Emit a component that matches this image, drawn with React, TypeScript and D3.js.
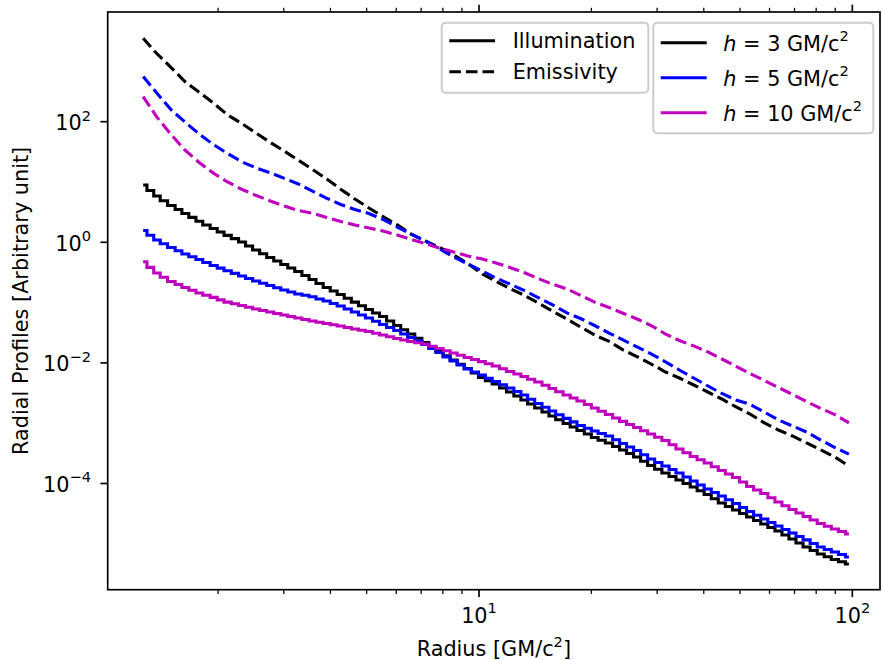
import React from 'react'
import * as d3 from 'd3'

// radial grid of the emissivity profiles [GM/c^2]
const radius = [1.26, 1.37, 1.50, 1.63, 1.78, 1.95, 2.12, 2.32, 2.53, 2.76, 3.01, 3.28, 3.58, 3.91, 4.26, 4.65, 5.07, 5.53, 6.04, 6.58, 7.18, 7.84, 8.55, 9.33, 10.2, 11.1, 12.1, 13.2, 14.4, 15.7, 17.2, 18.7, 20.4, 22.3, 24.3, 26.5, 28.9, 31.6, 34.4, 37.6, 41.0, 44.7, 48.8, 53.2, 58.1, 63.4, 69.1, 75.4, 82.3, 89.8, 97.9]

// radial bins of the illumination profiles [GM/c^2]
const radiusBins = [1.26, 1.32, 1.37, 1.43, 1.50, 1.57, 1.63, 1.71, 1.78, 1.86, 1.95, 2.03, 2.12, 2.22, 2.32, 2.42, 2.53, 2.64, 2.76, 2.88, 3.01, 3.14, 3.28, 3.43, 3.58, 3.74, 3.91, 4.08, 4.26, 4.45, 4.65, 4.86, 5.07, 5.30, 5.53, 5.78, 6.04, 6.30, 6.58, 6.88, 7.18, 7.50, 7.84, 8.19, 8.55, 8.93, 9.33, 9.74, 10.2, 10.6, 11.1, 11.6, 12.1, 12.7, 13.2, 13.8, 14.4, 15.1, 15.7, 16.4, 17.2, 17.9, 18.7, 19.6, 20.4, 21.3, 22.3, 23.3, 24.3, 25.4, 26.5, 27.7, 28.9, 30.2, 31.6, 33.0, 34.4, 36.0, 37.6, 39.2, 41.0, 42.8, 44.7, 46.7, 48.8, 51.0, 53.2, 55.6, 58.1, 60.7, 63.4, 66.2, 69.1, 72.2, 75.4, 78.8, 82.3, 85.9, 89.8, 93.8, 97.9]

// illumination profiles (solid, stepped)
const illumH3 = [8.91, 7.23, 5.86, 4.89, 4.08, 3.50, 3.00, 2.59, 2.23, 1.94, 1.69, 1.48, 1.30, 1.15, 1.01, 0.868, 0.745, 0.646, 0.560, 0.490, 0.428, 0.375, 0.328, 0.281, 0.242, 0.207, 0.178, 0.156, 0.136, 0.118, 0.102, 0.0887, 0.0769, 0.0673, 0.0588, 0.0495, 0.0417, 0.0355, 0.0301, 0.0256, 0.0218, 0.0184, 0.0155, 0.0131, 0.0112, 0.00950, 0.00807, 0.00681, 0.00573, 0.00506, 0.00447, 0.00384, 0.00329, 0.00282, 0.00243, 0.00208, 0.00179, 0.00153, 0.00132, 0.00114, 0.000989, 0.000865, 0.000757, 0.000662, 0.000579, 0.000521, 0.000470, 0.000411, 0.000360, 0.000315, 0.000275, 0.000234, 0.000199, 0.000172, 0.000149, 0.000131, 0.000114, 1.00e-4, 8.75e-5, 7.59e-5, 6.57e-5, 5.58e-5, 4.75e-5, 4.16e-5, 3.64e-5, 3.18e-5, 2.78e-5, 2.43e-5, 2.13e-5, 1.86e-5, 1.63e-5, 1.40e-5, 1.20e-5, 1.03e-5, 8.85e-6, 7.74e-6, 6.78e-6, 6.10e-6, 5.50e-6, 5.04e-6, 4.62e-6]
const illumH5 = [1.57, 1.31, 1.09, 0.946, 0.820, 0.724, 0.640, 0.576, 0.519, 0.462, 0.412, 0.373, 0.337, 0.305, 0.276, 0.251, 0.228, 0.209, 0.192, 0.176, 0.162, 0.150, 0.139, 0.132, 0.125, 0.115, 0.106, 0.0966, 0.0879, 0.0783, 0.0698, 0.0622, 0.0556, 0.0491, 0.0433, 0.0386, 0.0344, 0.0301, 0.0264, 0.0231, 0.0202, 0.0173, 0.0149, 0.0126, 0.0108, 0.00923, 0.00792, 0.00706, 0.00630, 0.00556, 0.00492, 0.00434, 0.00384, 0.00336, 0.00294, 0.00249, 0.00212, 0.00184, 0.00159, 0.00138, 0.00120, 0.00105, 0.000916, 0.000824, 0.000743, 0.000675, 0.000614, 0.000532, 0.000461, 0.000403, 0.000352, 0.000300, 0.000255, 0.000223, 0.000195, 0.000171, 0.000149, 0.000128, 0.000110, 9.44e-5, 8.11e-5, 7.10e-5, 6.21e-5, 5.38e-5, 4.66e-5, 4.00e-5, 3.44e-5, 2.97e-5, 2.58e-5, 2.25e-5, 1.97e-5, 1.73e-5, 1.51e-5, 1.32e-5, 1.16e-5, 1.01e-5, 8.85e-6, 8.04e-6, 7.31e-6, 6.65e-6, 6.04e-6]
const illumH10 = [0.477, 0.384, 0.310, 0.263, 0.224, 0.200, 0.178, 0.160, 0.144, 0.132, 0.122, 0.111, 0.102, 0.0957, 0.0895, 0.0837, 0.0783, 0.0740, 0.0698, 0.0659, 0.0622, 0.0588, 0.0556, 0.0525, 0.0495, 0.0472, 0.0450, 0.0430, 0.0409, 0.0386, 0.0365, 0.0348, 0.0332, 0.0310, 0.0290, 0.0272, 0.0254, 0.0240, 0.0226, 0.0216, 0.0206, 0.0189, 0.0173, 0.0159, 0.0146, 0.0134, 0.0123, 0.0114, 0.0105, 0.00968, 0.00889, 0.00800, 0.00720, 0.00655, 0.00594, 0.00536, 0.00482, 0.00426, 0.00376, 0.00333, 0.00294, 0.00262, 0.00233, 0.00204, 0.00179, 0.00158, 0.00139, 0.00122, 0.00107, 0.000951, 0.000849, 0.000750, 0.000662, 0.000585, 0.000516, 0.000440, 0.000373, 0.000324, 0.000281, 0.000248, 0.000219, 0.000190, 0.000164, 0.000144, 0.000126, 0.000106, 8.92e-5, 7.80e-5, 6.82e-5, 5.81e-5, 4.93e-5, 4.28e-5, 3.71e-5, 3.24e-5, 2.84e-5, 2.48e-5, 2.17e-5, 1.95e-5, 1.76e-5, 1.60e-5, 1.46e-5]

// emissivity profiles (dashed)
const emisH3 = [2420, 1350, 780, 462, 308, 200, 130, 92.3, 64.5, 45.4, 32.5, 23.0, 16.2, 11.2, 7.6, 5.22, 3.71, 2.67, 1.94, 1.37, 1.05, 0.820, 0.616, 0.442, 0.298, 0.225, 0.171, 0.133, 0.0985, 0.0726, 0.0535, 0.0394, 0.0290, 0.0227, 0.0164, 0.0127, 0.00959, 0.00706, 0.00562, 0.00430, 0.00329, 0.00252, 0.00186, 0.00142, 0.00101, 0.00077, 0.000614, 0.000470, 0.000360, 0.000275, 0.000195]
const emisH5 = [562, 299, 156, 98.9, 62.5, 41.1, 29.6, 21.5, 17.1, 14.2, 11.5, 9.27, 7.04, 5.37, 4.24, 3.50, 3.00, 2.39, 1.79, 1.37, 1.05, 0.774, 0.570, 0.437, 0.334, 0.256, 0.203, 0.159, 0.121, 0.0927, 0.0673, 0.0545, 0.0417, 0.0313, 0.0240, 0.0184, 0.0141, 0.0104, 0.00762, 0.00562, 0.00414, 0.00311, 0.00243, 0.00206, 0.00153, 0.00113, 0.000899, 0.000714, 0.000526, 0.000395, 0.000308]
const emisH10 = [260, 120, 60.2, 33.9, 21.1, 13.8, 10.0, 7.51, 5.97, 4.84, 4.00, 3.37, 3.03, 2.58, 2.21, 1.94, 1.73, 1.54, 1.32, 1.11, 0.955, 0.804, 0.690, 0.593, 0.529, 0.454, 0.382, 0.316, 0.251, 0.203, 0.168, 0.132, 0.102, 0.0829, 0.0665, 0.0535, 0.0417, 0.0301, 0.0235, 0.0191, 0.0152, 0.0116, 0.00879, 0.00667, 0.00511, 0.00391, 0.00299, 0.00229, 0.00175, 0.00139, 0.00101]

const heights = ['3', '5', '10']
const colors = ['#000000', '#0000ff', '#bf00bf']
const illum = [illumH3, illumH5, illumH10]
const emis = [emisH3, emisH5, emisH10]

const xTicks = [10, 100]
const xTickExp = ['1', '2']
const xMinor = [2, 3, 4, 5, 6, 7, 8, 9, 20, 30, 40, 50, 60, 70, 80, 90]
const yTicks = [1e-4, 1e-2, 1, 1e2]
const yTickExp = ['\u22124', '\u22122', '0', '2']

const W = 883
const H = 660
const left = 107.7
const right = 880
const top = 12
const bottom = 589.7
const font = 'DejaVu Sans'
const fs = 20.8
const sup = 14.6
const lw = 3.1
const spine = 1.67
const dash = '11.6,5'

// pair radii with values (stops at the shorter list)
function pairs (rs: number[], vs: number[]): [number, number][] {
  const n = Math.min(rs.length, vs.length)
  return d3.range(n).map(i => [rs[i], vs[i]] as [number, number])
}

export default function App () {
  const x = d3.scaleLog().domain([1.0124, 118.6]).range([left, right])
  const y = d3.scaleLog().domain([1.733e-6, 6592]).range([bottom, top])

  const stepLine = d3.line<[number, number]>()
    .x(d => x(d[0]))
    .y(d => y(d[1]))
    .curve(d3.curveStep)
  const plainLine = d3.line<[number, number]>()
    .x(d => x(d[0]))
    .y(d => y(d[1]))

  return (
    <svg width={W} height={H} style={{ position: 'absolute', left: 0, top: 0, background: '#fff' }}
      fontFamily={font} fontSize={fs}>
      <rect width={W} height={H} fill='#fff' />
      {heights.map((h, k) => (
        <g key={h}>
          <path d={stepLine(pairs(radiusBins, illum[k])) || ''} fill='none' stroke={colors[k]} strokeWidth={lw} />
          <path d={plainLine(pairs(radius, emis[k])) || ''} fill='none' stroke={colors[k]} strokeWidth={lw}
            strokeDasharray={dash} />
        </g>
      ))}

      <rect x={left} y={top} width={right - left} height={bottom - top} fill='none'
        stroke='#000' strokeWidth={spine} />

      {/* x ticks, bottom and top */}
      {xTicks.map((t, i) => (
        <g key={'xt' + t}>
          <line x1={x(t)} x2={x(t)} y1={bottom} y2={bottom + 7.3} stroke='#000' strokeWidth={spine} />
          <line x1={x(t)} x2={x(t)} y1={top} y2={top - 7.3} stroke='#000' strokeWidth={spine} />
          <text x={x(t)} y={622.6} textAnchor='middle'>
            <tspan>10</tspan><tspan dy={-9.4} fontSize={sup}>{xTickExp[i]}</tspan>
          </text>
        </g>
      ))}
      {xMinor.map(t => (
        <g key={'xm' + t}>
          <line x1={x(t)} x2={x(t)} y1={bottom} y2={bottom + 4.2} stroke='#000' strokeWidth={1.25} />
          <line x1={x(t)} x2={x(t)} y1={top} y2={top - 4.2} stroke='#000' strokeWidth={1.25} />
        </g>
      ))}

      {/* y ticks */}
      {yTicks.map((t, i) => (
        <g key={'yt' + t}>
          <line x1={left} x2={left - 7.3} y1={y(t)} y2={y(t)} stroke='#000' strokeWidth={spine} />
          <text x={91} y={y(t) + 8.3} textAnchor='end'>
            <tspan>10</tspan><tspan dy={-9.4} fontSize={sup}>{yTickExp[i]}</tspan>
          </text>
        </g>
      ))}

      <text x={(left + right) / 2} y={655.7} textAnchor='middle'>
        Radius [GM/c<tspan dy={-8.8} fontSize={sup}>2</tspan><tspan dy={8.8}>]</tspan>
      </text>
      <text transform={`translate(28.3,${(top + bottom) / 2}) rotate(-90)`} textAnchor='middle'>
        Radial Profiles [Arbitrary unit]
      </text>

      {/* legend: line styles */}
      <rect x={441.7} y={22.7} width={206.6} height={70} rx={4} fill='#fff' fillOpacity={0.8}
        stroke='#cccccc' strokeWidth={2} />
      <line x1={449.3} x2={495} y1={40.7} y2={40.7} stroke='#000' strokeWidth={lw} />
      <text x={512.7} y={48.3}>Illumination</text>
      <line x1={449.3} x2={495} y1={71.7} y2={71.7} stroke='#000' strokeWidth={lw} strokeDasharray={dash} />
      <text x={512.7} y={79}>Emissivity</text>

      {/* legend: source heights */}
      <rect x={653.3} y={22.7} width={220} height={110.6} rx={4} fill='#fff' fillOpacity={0.8}
        stroke='#cccccc' strokeWidth={2} />
      {heights.map((h, k) => (
        <g key={'lg' + h}>
          <line x1={660.7} x2={706.7} y1={42.7 + 35 * k} y2={42.7 + 35 * k} stroke={colors[k]} strokeWidth={lw} />
          <text x={723.3} y={50.5 + 35 * k}>
            <tspan fontStyle='italic'>h</tspan>{` = ${h} GM/c`}<tspan dy={-9.4} fontSize={sup}>2</tspan>
          </text>
        </g>
      ))}
    </svg>
  )
}
